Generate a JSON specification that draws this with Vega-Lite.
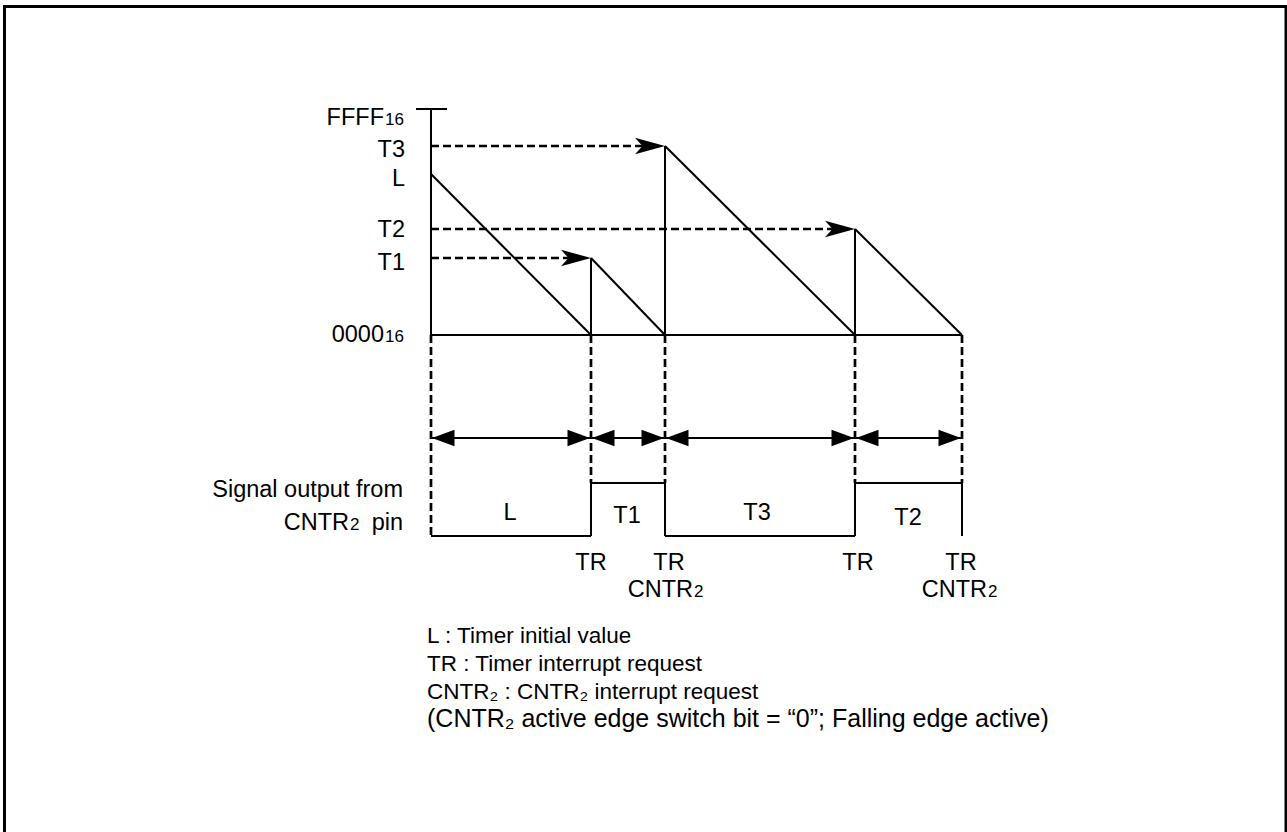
{
  "$schema": "https://vega.github.io/schema/vega-lite/v6.json",
  "width": 1287,
  "height": 832,
  "autosize": {"type": "fit", "contains": "padding"},
  "padding": 0,
  "background": "white",
  "config": {"view": {"stroke": null}},
  "datasets": {
    "frame": [
      {"x": -426.5, "y": 328.5, "x2": -426.5, "y2": -497},
      {"x": -428, "y": 328.5, "x2": 856, "y2": 328.5},
      {"x": 855, "y": 328.5, "x2": 855, "y2": -497}
    ],
    "solid": [
      {"x": 0, "y": 0, "x2": 0, "y2": 226},
      {"x": -15, "y": 226, "x2": 16, "y2": 226},
      {"x": 0, "y": 0, "x2": 531, "y2": 0},
      {"x": 0, "y": 161, "x2": 160, "y2": 0},
      {"x": 160, "y": 0, "x2": 160, "y2": 77},
      {"x": 160, "y": 77, "x2": 234, "y2": 0},
      {"x": 234, "y": 0, "x2": 234, "y2": 189},
      {"x": 234, "y": 189, "x2": 424, "y2": 0},
      {"x": 424, "y": 0, "x2": 424, "y2": 106},
      {"x": 424, "y": 106, "x2": 531, "y2": 0},
      {"x": 0, "y": -201, "x2": 160, "y2": -201},
      {"x": 160, "y": -201, "x2": 160, "y2": -148},
      {"x": 160, "y": -148, "x2": 234, "y2": -148},
      {"x": 234, "y": -148, "x2": 234, "y2": -201},
      {"x": 234, "y": -201, "x2": 424, "y2": -201},
      {"x": 424, "y": -201, "x2": 424, "y2": -148},
      {"x": 424, "y": -148, "x2": 531, "y2": -148},
      {"x": 531, "y": -148, "x2": 531, "y2": -201},
      {"x": 0, "y": -103, "x2": 531, "y2": -103}
    ],
    "dashed": [
      {"x": 0, "y": 189, "x2": 218, "y2": 189},
      {"x": 0, "y": 106, "x2": 408, "y2": 106},
      {"x": 0, "y": 77, "x2": 144, "y2": 77},
      {"x": 0, "y": 0, "x2": 0, "y2": -201},
      {"x": 160, "y": 0, "x2": 160, "y2": -148},
      {"x": 234, "y": 0, "x2": 234, "y2": -148},
      {"x": 424, "y": 0, "x2": 424, "y2": -148},
      {"x": 531, "y": 0, "x2": 531, "y2": -148}
    ],
    "arrowsNotched": [
      {"x": 234, "y": 189},
      {"x": 424, "y": 106},
      {"x": 160, "y": 77}
    ],
    "arrowsRight": [
      {"x": 159, "y": -103},
      {"x": 233, "y": -103},
      {"x": 423, "y": -103},
      {"x": 530, "y": -103}
    ],
    "arrowsLeft": [
      {"x": 1, "y": -103},
      {"x": 161, "y": -103},
      {"x": 235, "y": -103},
      {"x": 425, "y": -103}
    ],
    "labelsRight": [
      {"x": -47, "y": 210, "text": "FFFF"},
      {"x": -26, "y": 178, "text": "T3"},
      {"x": -26, "y": 149, "text": "L"},
      {"x": -26, "y": 98, "text": "T2"},
      {"x": -26, "y": 65, "text": "T1"},
      {"x": -47, "y": -7, "text": "0000"},
      {"x": -28, "y": -162, "text": "Signal output from"},
      {"x": -82, "y": -195, "text": "CNTR"},
      {"x": -28, "y": -195, "text": "pin"},
      {"x": 262, "y": -262, "text": "CNTR"},
      {"x": 556, "y": -262, "text": "CNTR"}
    ],
    "labelsSub": [
      {"x": -46, "y": 210, "text": "16"},
      {"x": -46, "y": -7, "text": "16"},
      {"x": -81, "y": -195, "text": "2"},
      {"x": 263, "y": -262, "text": "2"},
      {"x": 557, "y": -262, "text": "2"}
    ],
    "labelsCenter": [
      {"x": 79, "y": -185, "text": "L"},
      {"x": 196, "y": -188, "text": "T1"},
      {"x": 326, "y": -185, "text": "T3"},
      {"x": 477, "y": -190, "text": "T2"},
      {"x": 160, "y": -235, "text": "TR"},
      {"x": 238, "y": -235, "text": "TR"},
      {"x": 427, "y": -235, "text": "TR"},
      {"x": 530, "y": -235, "text": "TR"}
    ],
    "legend": [
      {"x": -4, "y": -308, "text": "L : Timer initial value"},
      {"x": -4, "y": -336, "text": "TR : Timer interrupt request"},
      {"x": -4, "y": -364, "text": "CNTR₂ : CNTR₂ interrupt request"}
    ],
    "legendWide": [
      {"x": -4, "y": -392, "text": "(CNTR₂  active edge switch bit = “0”; Falling edge active)"}
    ]
  },
  "encoding": {
    "x": {"field": "x", "type": "quantitative", "scale": {"domain": [-431, 856], "nice": false, "zero": false}, "axis": null},
    "y": {"field": "y", "type": "quantitative", "scale": {"domain": [-497, 335], "nice": false, "zero": false}, "axis": null}
  },
  "layer": [
    {
      "data": {"name": "frame"},
      "mark": {"type": "rule", "color": "black", "strokeWidth": 3, "clip": true},
      "encoding": {"x2": {"field": "x2"}, "y2": {"field": "y2"}}
    },
    {
      "data": {"name": "solid"},
      "mark": {"type": "rule", "color": "black", "strokeWidth": 2},
      "encoding": {"x2": {"field": "x2"}, "y2": {"field": "y2"}}
    },
    {
      "data": {"name": "dashed"},
      "mark": {"type": "rule", "color": "black", "strokeWidth": 2.7, "strokeDash": [8, 4]},
      "encoding": {"x2": {"field": "x2"}, "y2": {"field": "y2"}}
    },
    {
      "data": {"name": "arrowsNotched"},
      "mark": {"type": "point", "filled": true, "color": "black", "opacity": 1, "strokeWidth": 0, "size": 900, "shape": "M0,0L-2,-0.55L-1.5,0L-2,0.55Z"}
    },
    {
      "data": {"name": "arrowsRight"},
      "mark": {"type": "point", "filled": true, "color": "black", "opacity": 1, "strokeWidth": 0, "size": 900, "shape": "M0,0L-1.5,-0.55L-1.5,0.55Z"}
    },
    {
      "data": {"name": "arrowsLeft"},
      "mark": {"type": "point", "filled": true, "color": "black", "opacity": 1, "strokeWidth": 0, "size": 900, "shape": "M0,0L1.5,-0.55L1.5,0.55Z"}
    },
    {
      "data": {"name": "labelsRight"},
      "mark": {"type": "text", "align": "right", "baseline": "alphabetic", "font": "Liberation Sans", "fontSize": 23.5, "color": "black"},
      "encoding": {"text": {"field": "text"}}
    },
    {
      "data": {"name": "labelsSub"},
      "mark": {"type": "text", "align": "left", "baseline": "alphabetic", "font": "Liberation Sans", "fontSize": 17, "color": "black"},
      "encoding": {"text": {"field": "text"}}
    },
    {
      "data": {"name": "labelsCenter"},
      "mark": {"type": "text", "align": "center", "baseline": "alphabetic", "font": "Liberation Sans", "fontSize": 23.5, "color": "black"},
      "encoding": {"text": {"field": "text"}}
    },
    {
      "data": {"name": "legend"},
      "mark": {"type": "text", "align": "left", "baseline": "alphabetic", "font": "Liberation Sans", "fontSize": 22.5, "color": "black"},
      "encoding": {"text": {"field": "text"}}
    },
    {
      "data": {"name": "legendWide"},
      "mark": {"type": "text", "align": "left", "baseline": "alphabetic", "font": "Liberation Sans", "fontSize": 25, "color": "black"},
      "encoding": {"text": {"field": "text"}}
    }
  ]
}
